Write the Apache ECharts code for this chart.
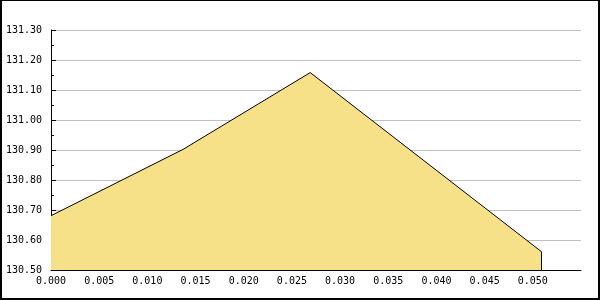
<!DOCTYPE html>
<html>
<head>
<meta charset="utf-8">
<script src="https://cdn.jsdelivr.net/npm/echarts@6/dist/echarts.min.js"></script>
<style>
  html, body { margin: 0; padding: 0; background: #fff; }
  #wrap { position: relative; width: 600px; height: 300px; }
  #chart { position: absolute; left: 0; top: 0; width: 600px; height: 300px; }
  #frame { position: absolute; left: 0; top: 0; width: 600px; height: 300px; box-sizing: border-box;
           border-top: 1px solid #000; border-left: 2px solid #000; border-right: 2px solid #000; border-bottom: 2px solid #000;
           pointer-events: none; }
</style>
</head>
<body>
<div id="wrap"><div id="chart"></div><div id="frame"></div></div>
<script>
// Data
const xValues = [0.0, 0.0137, 0.0269, 0.0509];
const yValues = [130.681, 130.902, 131.158, 130.561];
const xTicks = [0.000, 0.005, 0.010, 0.015, 0.020, 0.025, 0.030, 0.035, 0.040, 0.045, 0.050];
const yTicks = [130.5, 130.6, 130.7, 130.8, 130.9, 131.0, 131.1, 131.2, 131.3];
const xMin = 0, xMax = 0.055;
const yMin = 130.5, yMax = 131.3;

const points = xValues.map((x, i) => [x, yValues[i]]);
const lastX = xValues[xValues.length - 1];
const lastY = yValues[yValues.length - 1];

const font = { fontFamily: 'DejaVu Sans Mono', fontSize: 10, color: '#000' };

const chart = echarts.init(document.getElementById('chart'), null, { renderer: 'canvas' });
chart.setOption({
  animation: false,
  backgroundColor: '#fff',
  grid: { left: 51, right: 19, top: 30, bottom: 30, containLabel: false },
  xAxis: {
    type: 'value', min: xMin, max: xMax, interval: 0.005,
    axisLine: { show: true, lineStyle: { color: '#000', width: 1 } },
    axisTick: { show: true, inside: true, length: 5, lineStyle: { color: '#000' }, customValues: xTicks },
    axisLabel: Object.assign({ margin: 6, customValues: xTicks, formatter: v => v.toFixed(3) }, font),
    splitLine: { show: false }
  },
  yAxis: {
    type: 'value', min: yMin, max: yMax, interval: 0.1,
    axisLine: { show: true, lineStyle: { color: '#000', width: 1 } },
    axisTick: { show: true, inside: true, length: 5, lineStyle: { color: '#000' } },
    minorTick: { show: true, splitNumber: 2, length: 3, lineStyle: { color: '#000' } },
    axisLabel: Object.assign({ margin: 9, formatter: v => v.toFixed(2) }, font),
    splitLine: { show: true, lineStyle: { color: '#c0c0c0', width: 1 } }
  },
  series: [{
    type: 'line',
    data: points,
    symbol: 'none',
    lineStyle: { color: '#000', width: 1 },
    areaStyle: { color: '#f6e189', opacity: 1 },
    z: 3,
    markLine: {
      silent: true, symbol: 'none', label: { show: false },
      lineStyle: { color: '#000', width: 1, type: 'solid' },
      data: [[{ coord: [lastX, yMin] }, { coord: [lastX, lastY] }]]
    }
  }]
});
</script>
</body>
</html>
